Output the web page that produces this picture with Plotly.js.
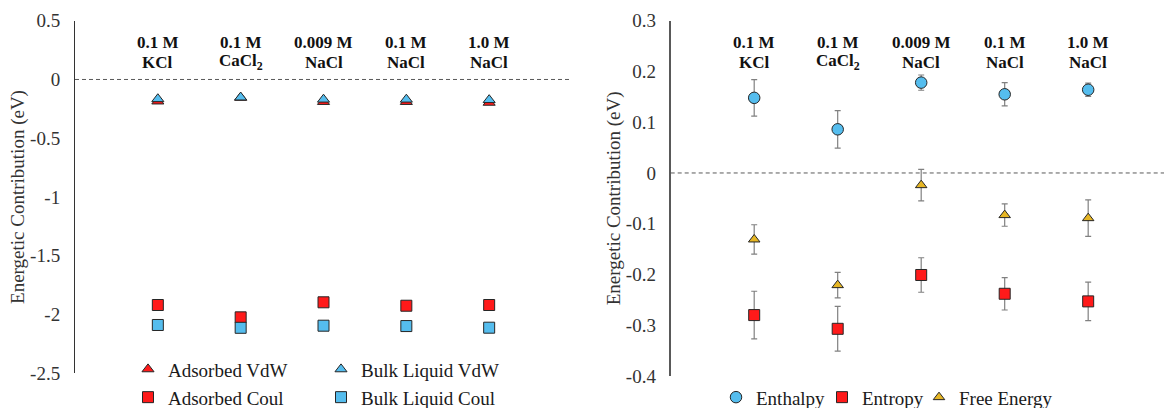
<!DOCTYPE html>
<html>
<head>
<meta charset="utf-8">
<script src="https://cdn.plot.ly/plotly-3.0.1.min.js"></script>
<style>html,body{margin:0;padding:0;background:#fff;}#chart{width:1164px;height:408px;}</style>
</head>
<body>
<div id="chart"></div>
<script>
// ---- data ----
const categories = ['0.1 M KCl', '0.1 M CaCl2', '0.009 M NaCl', '0.1 M NaCl', '1.0 M NaCl'];
const concLabels = ['0.1 M', '0.1 M', '0.009 M', '0.1 M', '1.0 M'];
const saltLabels = ['KCl', 'CaCl<sub>2</sub>', 'NaCl', 'NaCl', 'NaCl'];

// left panel
const adsorbedVdW   = [-0.186, -0.155, -0.19, -0.19, -0.197];
const bulkVdW       = [-0.166, -0.152, -0.17, -0.17, -0.174];
const adsorbedCoul  = [-1.919, -2.024, -1.896, -1.925, -1.919];
const bulkCoul      = [-2.089, -2.113, -2.095, -2.098, -2.112];
const leftTickVals  = [0.5, 0, -0.5, -1, -1.5, -2, -2.5];
const leftTickText  = ['0.5', '0', '-0.5', '-1', '-1.5', '-2', '-2.5'];

// right panel
const enthalpy      = [0.148, 0.086, 0.178, 0.155, 0.164];
const enthalpyErr   = [0.036, 0.037, 0.015, 0.023, 0.013];
const entropy       = [-0.280, -0.307, -0.201, -0.238, -0.253];
const entropyErr    = [0.047, 0.044, 0.034, 0.032, 0.038];
const freeEnergy    = [-0.131, -0.221, -0.024, -0.083, -0.089];
const freeEnergyErr = [0.029, 0.025, 0.031, 0.022, 0.036];
const rightTickVals = [0.3, 0.2, 0.1, 0, -0.1, -0.2, -0.3, -0.4];
const rightTickText = ['0.3', '0.2', '0.1', '0', '-0.1', '-0.2', '-0.3', '-0.4'];

// ---- styles ----
const RED = '#FF1A1A', BLUE = '#55BDEE', GOLD = '#E6B624', EDGE = '#262626';
const SERIF = 'Liberation Serif, Times New Roman, serif';
const W = 1164, H = 408;
const px = v => v / W, py = v => (H - v) / H;

function mk(symbol, color, size) {
  return {symbol: symbol, color: color, size: size, line: {color: EDGE, width: 1}};
}
function err(arr) {
  return {type: 'data', array: arr, visible: true, color: '#808080', thickness: 1.2, width: 3};
}

const traces = [
  {x: categories, y: adsorbedVdW, name: 'Adsorbed VdW', mode: 'markers', type: 'scatter',
   xaxis: 'x', yaxis: 'y', marker: mk('triangle-up', RED, 10.5), legend: 'legend'},
  {x: categories, y: bulkVdW, name: 'Bulk Liquid VdW', mode: 'markers', type: 'scatter',
   xaxis: 'x', yaxis: 'y', marker: mk('triangle-up', BLUE, 10.5), legend: 'legend'},
  {x: categories, y: adsorbedCoul, name: 'Adsorbed Coul', mode: 'markers', type: 'scatter',
   xaxis: 'x', yaxis: 'y', marker: mk('square', RED, 11), legend: 'legend2'},
  {x: categories, y: bulkCoul, name: 'Bulk Liquid Coul', mode: 'markers', type: 'scatter',
   xaxis: 'x', yaxis: 'y', marker: mk('square', BLUE, 11), legend: 'legend2'},
  {x: categories, y: enthalpy, error_y: err(enthalpyErr), name: 'Enthalpy', mode: 'markers', type: 'scatter',
   xaxis: 'x2', yaxis: 'y2', marker: mk('circle', BLUE, 11.5), legend: 'legend3'},
  {x: categories, y: entropy, error_y: err(entropyErr), name: 'Entropy', mode: 'markers', type: 'scatter',
   xaxis: 'x2', yaxis: 'y2', marker: mk('square', RED, 11), legend: 'legend4'},
  {x: categories, y: freeEnergy, error_y: err(freeEnergyErr), name: 'Free Energy', mode: 'markers', type: 'scatter',
   xaxis: 'x2', yaxis: 'y2', marker: mk('triangle-up', GOLD, 10), legend: 'legend5'}
];

const annotations = [];
['x', 'x2'].forEach(function (xr) {
  categories.forEach(function (c, i) {
    annotations.push({xref: xr, yref: 'paper', x: c, y: py(42.3), yanchor: 'middle', xanchor: 'center',
      text: '<b>' + concLabels[i] + '</b>', showarrow: false, font: {family: SERIF, size: 17, color: '#111'}});
    annotations.push({xref: xr, yref: 'paper', x: c, y: py(62), yanchor: 'middle', xanchor: 'center',
      text: '<b>' + saltLabels[i] + '</b>', showarrow: false, font: {family: SERIF, size: 17, color: '#111'}});
  });
});

const shapes = [
  {type: 'line', xref: 'x domain', yref: 'y', x0: 0, x1: 1, y0: 0, y1: 0,
   line: {color: '#595959', width: 1, dash: '4px,3px'}},
  {type: 'line', xref: 'x2 domain', yref: 'y2', x0: 0, x1: 1, y0: 0, y1: 0,
   line: {color: '#595959', width: 1, dash: '4px,3px'}}
];

const axFont = {family: SERIF, size: 19, color: '#333'};
const legFont = {family: SERIF, size: 19, color: '#1a1a1a'};
function leg(x, y, entrywidth) {
  const o = {orientation: 'h', x: px(x), xanchor: 'left', y: py(y), yanchor: 'middle',
             font: legFont, bgcolor: 'rgba(0,0,0,0)', itemwidth: 30};
  if (entrywidth) o.entrywidth = entrywidth;
  return o;
}

const layout = {
  width: W, height: H,
  margin: {l: 0, r: 0, t: 0, b: 0, autoexpand: false},
  paper_bgcolor: '#fff', plot_bgcolor: 'rgba(0,0,0,0)',
  font: {family: SERIF},
  showlegend: true,
  xaxis: {domain: [px(75), px(572)], range: [-1, 5], type: 'category', categoryarray: categories,
          showticklabels: false, showgrid: false, zeroline: false, showline: false, ticks: '', fixedrange: true},
  yaxis: {domain: [py(373.3), py(20.7)], range: [-2.5, 0.5], anchor: 'x',
          tickvals: leftTickVals, ticktext: leftTickText, tickfont: axFont, ticks: '', ticklabelstandoff: 10,
          showgrid: false, zeroline: false, showline: true, linecolor: '#333', linewidth: 1,
          title: {text: 'Energetic Contribution (eV)', font: axFont, standoff: 0}, automargin: false},
  xaxis2: {domain: [px(670.7), 1], range: [-1, 4.908], type: 'category', categoryarray: categories, anchor: 'y2',
           showticklabels: false, showgrid: false, zeroline: false, showline: false, ticks: '', fixedrange: true},
  yaxis2: {domain: [py(376), py(20.7)], range: [-0.4, 0.3], anchor: 'x2',
           tickvals: rightTickVals, ticktext: rightTickText, tickfont: axFont, ticks: '', ticklabelstandoff: 9,
           showgrid: false, zeroline: false, showline: true, linecolor: '#595959', linewidth: 2,
           title: {text: 'Energetic Contribution (eV)', font: axFont, standoff: 0}, automargin: false},
  legend: leg(128, 369.3, 148),
  legend2: leg(128, 397.3, 148),
  legend3: leg(716, 397.3),
  legend4: leg(822, 397.3),
  legend5: leg(919, 397.3),
  annotations: annotations,
  shapes: shapes
};

Plotly.newPlot('chart', traces, layout, {displayModeBar: false, staticPlot: true});
</script>
</body>
</html>
